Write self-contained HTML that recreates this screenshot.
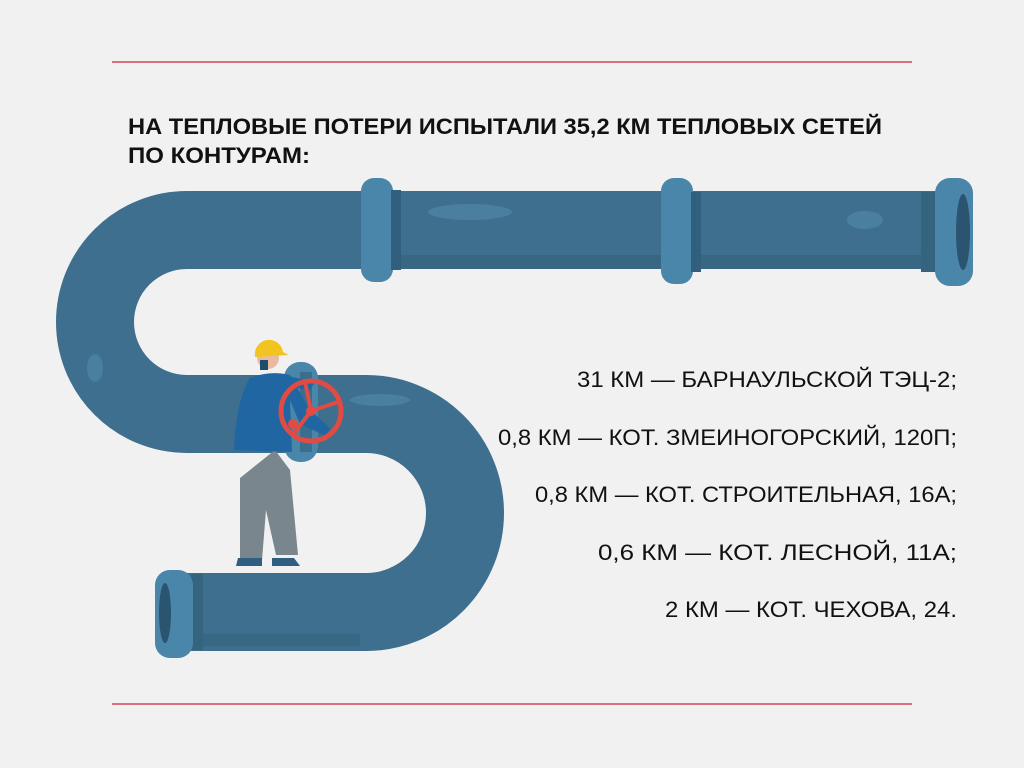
<!DOCTYPE html>
<html><head><meta charset="utf-8"><style>
html,body{margin:0;padding:0;background:#f1f1f1;}
svg{display:block;}
text{font-family:"Liberation Sans",Arial,sans-serif;fill:#111;}
</style></head><body>
<svg width="1024" height="768" viewBox="0 0 1024 768">
<rect width="1024" height="768" fill="#f1f1f1"/>
<line x1="112" y1="62" x2="912" y2="62" stroke="#d9707f" stroke-width="2"/>
<line x1="112" y1="704" x2="912" y2="704" stroke="#d9707f" stroke-width="2"/>
<text x="128" y="134" font-size="22" font-weight="bold" textLength="754" lengthAdjust="spacingAndGlyphs">НА ТЕПЛОВЫЕ ПОТЕРИ ИСПЫТАЛИ 35,2 КМ ТЕПЛОВЫХ СЕТЕЙ</text>
<text x="128" y="163" font-size="22" font-weight="bold" textLength="182" lengthAdjust="spacingAndGlyphs">ПО КОНТУРАМ:</text>

<g fill="none" stroke="#3e6f8e" stroke-linecap="butt">
<path d="M950 230 H187 A92 92 0 0 0 187 414 H366 A99 99 0 0 1 366 612 H180" stroke-width="78"/>
</g>
<path d="M400 262 H940" stroke="#386783" stroke-width="14"/>
<path d="M200 640 H360" stroke="#386783" stroke-width="12"/>
<ellipse cx="470" cy="212" rx="42" ry="8" fill="#4a7fa0"/>
<ellipse cx="865" cy="220" rx="18" ry="9" fill="#4a7fa0"/>
<ellipse cx="95" cy="368" rx="8" ry="14" fill="#4a7fa0"/>
<ellipse cx="380" cy="400" rx="30" ry="6" fill="#4a7fa0"/>
<rect x="361" y="178" width="32" height="104" rx="13" fill="#4a85aa"/>
<rect x="391" y="190" width="10" height="80" fill="#30607e"/>
<rect x="661" y="178" width="32" height="106" rx="13" fill="#4a85aa"/>
<rect x="691" y="192" width="10" height="80" fill="#30607e"/>
<rect x="921" y="192" width="16" height="80" fill="#35647f"/>
<rect x="935" y="178" width="38" height="108" rx="15" fill="#4a85aa"/>
<ellipse cx="963" cy="232" rx="7" ry="38" fill="#2a5470"/>
<rect x="191" y="574" width="12" height="76" fill="#35647f"/>
<rect x="155" y="570" width="38" height="88" rx="15" fill="#4a85aa"/>
<ellipse cx="165" cy="613" rx="6" ry="30" fill="#2a5470"/>

<rect x="284" y="362" width="34" height="100" rx="16" fill="#4a85aa"/>
<rect x="300" y="372" width="12" height="80" fill="#3a6e8f"/>
<path d="M240 478 L275 450 L290 470 L298 555 L276 555 L266 510 L262 560 L240 560 Z" fill="#7a868d"/>
<path d="M238 558 h24 v8 h-26 z" fill="#2f5e80"/>
<path d="M272 558 h22 l6 8 h-28 z" fill="#2f5e80"/>
<path d="M250 378 Q270 370 290 375 L310 410 L330 428 L326 436 L300 424 L290 400 L292 452 L234 450 Q236 400 250 378 Z" fill="#1f66a3"/>
<path d="M283 375 L315 382 L310 390 L288 386 Z" fill="#1f66a3"/>
<circle cx="268" cy="358" r="11" fill="#e9b9a0"/>
<path d="M255 356 a14 14 0 0 1 28 -4 l6 3 l-34 2 z" fill="#f3c420"/>
<rect x="260" y="360" width="8" height="10" fill="#1f4c6a"/>
<circle cx="311" cy="411" r="30" fill="none" stroke="#e04b43" stroke-width="5"/>
<g stroke="#e04b43" stroke-width="4"><line x1="311" y1="411" x2="305" y2="382"/><line x1="311" y1="411" x2="338" y2="402"/><line x1="311" y1="411" x2="292" y2="436"/></g>
<circle cx="311" cy="411" r="5" fill="#e04b43"/>
<circle cx="293" cy="424" r="5" fill="#e04b43"/>

<g font-size="22" text-anchor="end">
<text x="957" y="387" textLength="380" lengthAdjust="spacingAndGlyphs">31 КМ —  БАРНАУЛЬСКОЙ ТЭЦ-2;</text>
<text x="957" y="445" textLength="459" lengthAdjust="spacingAndGlyphs">0,8 КМ — КОТ. ЗМЕИНОГОРСКИЙ, 120П;</text>
<text x="957" y="502" textLength="422" lengthAdjust="spacingAndGlyphs">0,8 КМ — КОТ. СТРОИТЕЛЬНАЯ, 16А;</text>
<text x="957" y="560" textLength="359" lengthAdjust="spacingAndGlyphs">0,6 КМ — КОТ. ЛЕСНОЙ, 11А;</text>
<text x="957" y="617" textLength="292" lengthAdjust="spacingAndGlyphs">2 КМ — КОТ. ЧЕХОВА, 24.</text>
</g>
</svg>
</body></html>
